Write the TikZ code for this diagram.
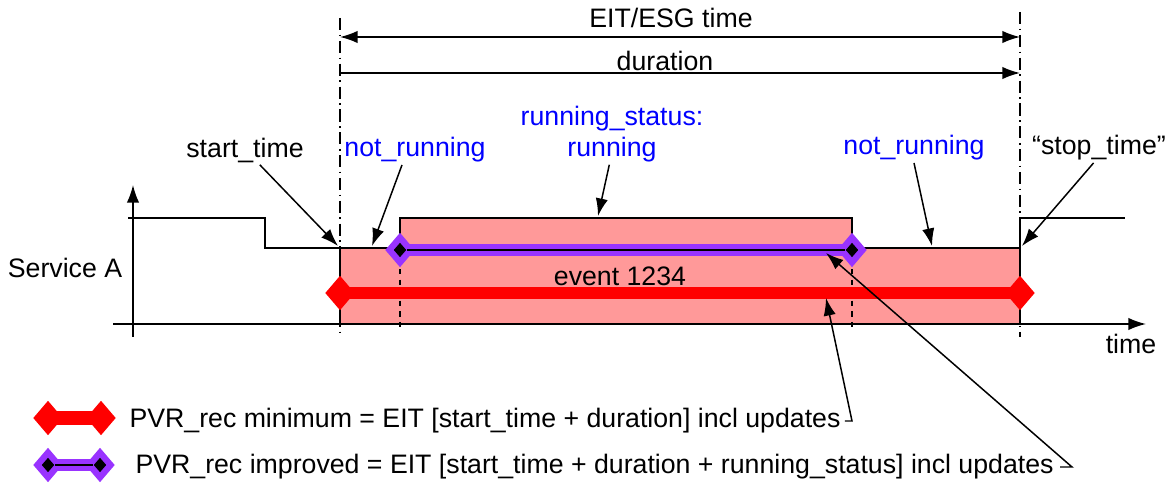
\documentclass[tikz,border=0pt]{standalone}
\usepackage{fontspec}
\setmainfont{Liberation Sans}
\usetikzlibrary{calc,shapes.geometric,arrows.meta}
\definecolor{evPink}{HTML}{FF9999}
\definecolor{recRed}{HTML}{FF0000}
\definecolor{recPurple}{HTML}{9933FF}
\definecolor{statBlue}{HTML}{0000FF}
\tikzset{
  lbl/.style={inner sep=1pt,font=\fontsize{15.2}{18}\selectfont},
  bluelbl/.style={lbl,text=statBlue,align=center},
  arr/.style={-{Latex[length=10pt,width=7pt]}},
  reddia/.style={diamond,fill=recRed,inner sep=0pt,minimum width=0.6cm,minimum height=0.7cm},
  purpdia/.style={diamond,fill=recPurple,inner sep=0pt,minimum width=0.6cm,minimum height=0.7cm},
  blackdia/.style={diamond,fill=black,inner sep=0pt,minimum width=0.26cm,minimum height=0.3cm},
  dashdotline/.style={dash pattern=on 7pt off 2.5pt on 1pt off 2.5pt}
}

\begin{document}
\begin{tikzpicture}[x=0.02cm,y=-0.02cm,line width=0.85pt]
  \useasboundingbox (0,0) rectangle (1171,486);

  %% The event as a pink area
  \fill[evPink] (340,324) -- (340,248) -- (400,248) -- (400,218) -- (852,218)
    -- (852,248) -- (1020,248) -- (1020,324) -- cycle;

  %% Dash-dotted time marks and the two arrows on top
  \coordinate (eitL) at (340,37);
  \coordinate (eitR) at (1020,37);
  \coordinate (durL) at (340,73);
  \coordinate (durR) at (1020,73);
  \draw[dashdotline] (340,18) -- (340,337);
  \draw[dashdotline] (1020,12) -- (1020,337);
  \draw[{Latex[length=10pt,width=7pt]}-{Latex[length=10pt,width=7pt]}] (eitL) -- (eitR);
  \draw[arr] (durL) -- (durR);
  \node[lbl] (eitLbl) at (671,18) {EIT/ESG time};
  \node[lbl] (durLbl) at (665,61) {duration};

  %% Dashed marks for running_status
  \foreach \x in {400,852}
  {
    \draw[dashed] (\x,248) -- (\x,327);
  }

  %% Axes
  \draw[arr] (133,337) -- (133,185);
  \draw[arr] (113,324) -- (1146,324);
  \node[lbl] (timeLbl) at (1131,344) {time};
  \node[lbl] (servLbl) at (65,268) {Service A};

  %% Signal of service A
  \draw (128,218) -- (265,218) -- (265,248) -- (400,248) -- (400,218) -- (852,218)
    -- (852,248) -- (1020,248) -- (1020,218) -- (1125,218);
  \draw (340,248) -- (340,324);
  \draw (1020,248) -- (1020,324);
  \node[lbl] (evLbl) at (620,276) {event 1234};

  %% PVR_rec minimum
  \node[reddia] (minL) at (340,293) {};
  \node[reddia] (minR) at (1020,293) {};
  \draw[recRed,line width=6.5pt] (minL.center) -- (minR.center);

  %% PVR_rec improved
  \node[purpdia] (impL) at (400,250) {};
  \node[purpdia] (impR) at (852,250) {};
  \draw[recPurple,line width=6.5pt] (impL.center) -- (impR.center);
  \node[blackdia] (impLi) at (impL) {};
  \node[blackdia] (impRi) at (impR) {};
  \draw (impLi) -- (impRi);

  %% Labels with arrows
  \node[lbl] (stLbl) at (245,150) {start\_time};
  \node[bluelbl] (nrLLbl) at (415,150) {not\_running};
  \node[bluelbl] (rsLbl) at (612,134) {running\_status:\\running};
  \node[bluelbl] (nrRLbl) at (914,148) {not\_running};
  \node[lbl] (spLbl) at (1099,148) {“stop\_time”};
  \coordinate (stTip) at (338,246);
  \coordinate (nrLTip) at (372,246);
  \coordinate (rsTip) at (598,216);
  \coordinate (nrRTip) at (932,246);
  \coordinate (spTip) at (1022,246);
  \foreach \n/\a/\t in {stLbl/-45/stTip, nrLLbl/-131/nrLTip, rsLbl/-95/rsTip,
                        nrRLbl/-90/nrRTip, spLbl/-110/spTip}
  {
    \draw[arr] (\n.\a) -- (\t);
  }

  %% Legend
  \node[reddia] (legMinL) at (48,418) {};
  \node[reddia] (legMinR) at (101,418) {};
  \draw[recRed,line width=8pt] (legMinL.center) -- (legMinR.center);
  \node[lbl,anchor=west] (legMin) at (127,421) {PVR\_rec minimum = EIT [start\_time + duration] incl updates};

  \node[purpdia] (legImpL) at (48,465) {};
  \node[purpdia] (legImpR) at (100,465) {};
  \draw[recPurple,line width=7pt] (legImpL.center) -- (legImpR.center);
  \node[blackdia] (legImpLi) at (legImpL) {};
  \node[blackdia] (legImpRi) at (legImpR) {};
  \draw (legImpLi) -- (legImpRi);
  \node[lbl,anchor=west] (legImp) at (133,467) {PVR\_rec improved = EIT [start\_time + duration + running\_status] incl updates};

  %% Leaders from the legend to the lines
  \coordinate (minKnee) at (852,421);
  \coordinate (minTip) at (826,298);
  \coordinate (impKnee) at (1072,465);
  \coordinate (impTip) at (826,253);
  \draw[arr] ($(legMin.east)+(2,0)$) -- (legMin.east -| minKnee) -- (minTip);
  \draw[arr] ($(legImp.east)+(4,0)$) -- (legImp.east -| impKnee) -- (impTip);
\end{tikzpicture}
\end{document}
